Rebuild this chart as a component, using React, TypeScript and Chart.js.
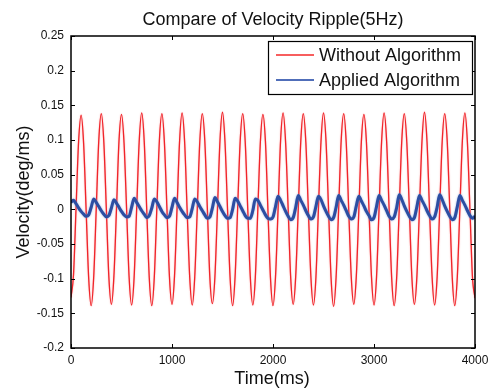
import React, { useEffect, useRef } from "react";
import { Chart, registerables } from "chart.js";
Chart.register(...registerables);

const TIME_STEP_MS = 25;
const xTicks = [0, 1000, 2000, 3000, 4000];
const yTicks = [-0.2, -0.15, -0.1, -0.05, 0, 0.05, 0.1, 0.15, 0.2, 0.25];
const seriesNames = ["Without Algorithm", "Applied Algorithm"];
const titleText = "Compare of Velocity Ripple(5Hz)";
const xTitle = "Time(ms)";
const yTitle = "Velocity(deg/ms)";

const withoutAlgorithm = [
  -0.127, -0.094, 0.002, 0.097, 0.136, 0.095, -0.002, -0.099,
  -0.139, -0.097, 0.001, 0.099, 0.138, 0.097, 0.0, -0.098,
  -0.137, -0.096, -0.001, 0.098, 0.137, 0.096, 0.002, -0.097,
  -0.138, -0.098, 0.0, 0.097, 0.139, 0.098, -0.001, -0.099,
  -0.139, -0.097, 0.002, 0.099, 0.138, 0.096, 0.0, -0.098,
  -0.137, -0.096, 0.001, 0.098, 0.139, 0.097, -0.002, -0.097,
  -0.138, -0.098, -0.001, 0.097, 0.138, 0.098, 0.001, -0.099,
  -0.136, -0.097, 0.0, 0.099, 0.14, 0.096, -0.001, -0.098,
  -0.139, -0.096, 0.002, 0.098, 0.138, 0.097, 0.0, -0.097,
  -0.138, -0.098, 0.001, 0.097, 0.137, 0.098, -0.002, -0.099,
  -0.139, -0.097, -0.001, 0.099, 0.139, 0.096, 0.001, -0.098,
  -0.137, -0.096, 0.0, 0.098, 0.138, 0.097, -0.001, -0.097,
  -0.138, -0.098, 0.002, 0.097, 0.139, 0.098, 0.0, -0.099,
  -0.14, -0.097, 0.001, 0.099, 0.138, 0.096, -0.002, -0.098,
  -0.137, -0.096, -0.001, 0.098, 0.137, 0.097, 0.001, -0.097,
  -0.138, -0.098, 0.0, 0.097, 0.139, 0.098, -0.001, -0.099,
  -0.139, -0.097, 0.002, 0.099, 0.138, 0.096, 0.0, -0.098,
  -0.137, -0.096, 0.001, 0.098, 0.14, 0.097, -0.002, -0.097,
  -0.138, -0.098, -0.001, 0.097, 0.138, 0.098, 0.001, -0.099,
  -0.139, -0.097, 0.0, 0.099, 0.139, 0.096, -0.001, -0.098,
  -0.128,
];

const appliedAlgorithm = [
  0.01, 0.013, 0.008, 0.002, -0.003, -0.007, -0.01, -0.008,
  0.003, 0.015, 0.01, 0.004, -0.002, -0.007, -0.011, -0.009,
  0.002, 0.014, 0.009, 0.003, -0.003, -0.008, -0.011, -0.01,
  0.003, 0.016, 0.01, 0.004, -0.002, -0.007, -0.012, -0.009,
  0.002, 0.015, 0.011, 0.004, -0.003, -0.008, -0.012, -0.01,
  0.003, 0.016, 0.01, 0.003, -0.003, -0.008, -0.012, -0.011,
  0.001, 0.015, 0.011, 0.004, -0.002, -0.008, -0.013, -0.011,
  0.002, 0.017, 0.011, 0.004, -0.003, -0.009, -0.013, -0.012,
  0.0, 0.016, 0.012, 0.005, -0.002, -0.009, -0.013, -0.013,
  -0.002, 0.015, 0.013, 0.006, -0.001, -0.008, -0.013, -0.014,
  -0.011, 0.004, 0.019, 0.013, 0.005, -0.003, -0.01, -0.015,
  -0.012, 0.003, 0.02, 0.013, 0.006, -0.002, -0.009, -0.014,
  -0.011, 0.004, 0.019, 0.014, 0.005, -0.003, -0.01, -0.015,
  -0.012, 0.003, 0.02, 0.013, 0.006, -0.002, -0.01, -0.014,
  -0.011, 0.005, 0.019, 0.012, 0.005, -0.003, -0.009, -0.015,
  -0.012, 0.004, 0.02, 0.013, 0.006, -0.002, -0.01, -0.014,
  -0.011, 0.003, 0.021, 0.014, 0.005, -0.003, -0.01, -0.015,
  -0.012, 0.004, 0.02, 0.013, 0.006, -0.002, -0.009, -0.014,
  -0.011, 0.003, 0.021, 0.014, 0.005, -0.003, -0.01, -0.015,
  -0.012, 0.004, 0.02, 0.013, 0.006, -0.002, -0.009, -0.013,
  -0.01,
];

const RED = "rgb(240, 36, 42)";
const BLUE = "rgb(44, 78, 162)";
const FONT = "'Liberation Sans', Arial, Helvetica, sans-serif";

const toPoints = (vals: number[]) => vals.map((v, i) => ({ x: i * TIME_STEP_MS, y: v }));

const haloPlugin = {
  id: "halo",
  beforeDatasetDraw(chart: any, args: any) {
    const ctx = chart.ctx;
    ctx.save();
    if (args.index === 1) {
      ctx.shadowColor = "rgba(110, 140, 210, 0.8)";
      ctx.shadowBlur = 2;
    } else {
      ctx.shadowColor = "rgba(250, 150, 150, 0.9)";
      ctx.shadowBlur = 1.5;
    }
  },
  afterDatasetDraw(chart: any) {
    chart.ctx.restore();
  },
};

const framePlugin = {
  id: "matlabFrame",
  afterDatasetsDraw(chart: any) {
    const { ctx, chartArea: a, scales } = chart;
    const xs = scales.x;
    const ys = scales.y;
    ctx.save();
    ctx.shadowColor = "transparent";
    ctx.shadowBlur = 0;
    ctx.strokeStyle = "#000";
    ctx.lineWidth = 1.5;
    ctx.strokeRect(a.left, a.top, a.right - a.left, a.bottom - a.top);
    ctx.lineWidth = 1;
    const tl = 4;
    ctx.beginPath();
    xTicks.forEach((v) => {
      const px = Math.round(xs.getPixelForValue(v)) + 0.5;
      ctx.moveTo(px, a.bottom);
      ctx.lineTo(px, a.bottom - tl);
      ctx.moveTo(px, a.top);
      ctx.lineTo(px, a.top + tl);
    });
    yTicks.forEach((v) => {
      const py = Math.round(ys.getPixelForValue(v)) + 0.5;
      ctx.moveTo(a.left, py);
      ctx.lineTo(a.left + tl, py);
      ctx.moveTo(a.right, py);
      ctx.lineTo(a.right - tl, py);
    });
    ctx.stroke();

    // legend
    const lx = 268, ly = 41, lw = 204, lh = 53;
    ctx.fillStyle = "#fff";
    ctx.fillRect(lx, ly, lw, lh);
    ctx.lineWidth = 1.2;
    ctx.strokeStyle = "#000";
    ctx.strokeRect(lx + 0.5, ly + 0.5, lw, lh);
    const rows = [
      { name: seriesNames[0], color: "rgb(245, 40, 40)", w: 1.3, y: 55 },
      { name: seriesNames[1], color: "rgb(80, 110, 185)", w: 2, y: 80 },
    ];
    ctx.font = `18px ${FONT}`;
    ctx.textBaseline = "middle";
    ctx.textAlign = "left";
    rows.forEach((r) => {
      ctx.strokeStyle = r.color;
      ctx.lineWidth = r.w;
      ctx.beginPath();
      ctx.moveTo(276, r.y);
      ctx.lineTo(314, r.y);
      ctx.stroke();
      ctx.fillStyle = "#111";
      ctx.fillText(r.name, 319, r.y + 1);
    });

    // titles
    ctx.fillStyle = "#111";
    ctx.textAlign = "center";
    ctx.font = `18px ${FONT}`;
    ctx.fillText(titleText, (a.left + a.right) / 2, 20);
    ctx.fillText(xTitle, 272, 379);
    ctx.translate(24, 192);
    ctx.rotate(-Math.PI / 2);
    ctx.fillText(yTitle, 0, 0);
    ctx.restore();
  },
};

const fmt = (v: number) => String(Number(v.toFixed(2)));

export default function App() {
  const ref = useRef<HTMLCanvasElement>(null);
  useEffect(() => {
    if (!ref.current) return;
    const chart = new Chart(ref.current, {
      type: "line",
      data: {
        datasets: [
          {
            label: seriesNames[0],
            data: toPoints(withoutAlgorithm),
            borderColor: RED,
            borderWidth: 1.3,
            pointRadius: 0,
            cubicInterpolationMode: "monotone",
            order: 1,
          },
          {
            label: seriesNames[1],
            data: toPoints(appliedAlgorithm),
            borderColor: BLUE,
            borderWidth: 3,
            pointRadius: 0,
            cubicInterpolationMode: "monotone",
            order: 0,
          },
        ],
      },
      options: {
        animation: false,
        responsive: false,
        events: [],
        layout: { padding: { top: 36, right: 20, left: 0, bottom: 0 } },
        plugins: { legend: { display: false }, title: { display: false }, tooltip: { enabled: false } },
        scales: {
          x: {
            type: "linear",
            min: 0,
            max: 4000,
            grid: { display: false, drawTicks: false },
            border: { display: false },
            afterBuildTicks: (s: any) => {
              s.ticks = xTicks.map((v) => ({ value: v }));
            },
            afterFit: (s: any) => {
              s.height = 43;
            },
            ticks: {
              autoSkip: false,
              maxRotation: 0,
              padding: 5,
              color: "#111",
              font: { family: FONT, size: 12 },
              callback: (v: any) => String(v),
            },
          },
          y: {
            type: "linear",
            min: -0.2,
            max: 0.25,
            grid: { display: false, drawTicks: false },
            border: { display: false },
            afterBuildTicks: (s: any) => {
              s.ticks = yTicks.map((v) => ({ value: v }));
            },
            afterFit: (s: any) => {
              s.width = 71;
            },
            ticks: {
              autoSkip: false,
              padding: 7,
              color: "#111",
              font: { family: FONT, size: 12 },
              callback: (v: any) => fmt(Number(v)),
            },
          },
        },
      },
      plugins: [haloPlugin, framePlugin],
    });
    return () => chart.destroy();
  }, []);
  return (
    <div style={{ position: "fixed", left: 0, top: 0, width: 495, height: 391, background: "#fff" }}>
      <canvas ref={ref} width={495} height={391} style={{ width: 495, height: 391 }} />
    </div>
  );
}
